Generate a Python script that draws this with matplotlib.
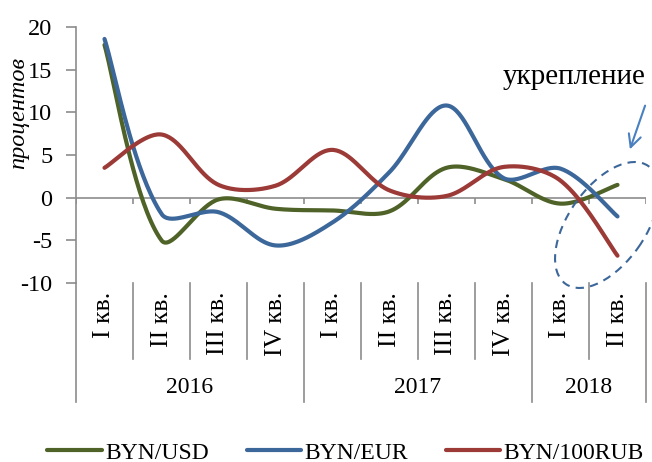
import numpy as np
import matplotlib
matplotlib.use("Agg")
import matplotlib.pyplot as plt
from matplotlib.patches import Ellipse
from matplotlib.lines import Line2D

plt.rcParams["font.family"] = ["Liberation Serif", "DejaVu Serif"]
plt.rcParams["axes.unicode_minus"] = False

# данные
quarters = ["I кв.", "II кв.", "III кв.", "IV кв.",
            "I кв.", "II кв.", "III кв.", "IV кв.",
            "I кв.", "II кв."]
years = ["2016", "2017", "2018"]
year_sizes = [4, 4, 2]
usd = [17.9, -5.0, -0.2, -1.3, -1.5, -1.6, 3.5, 2.2, -0.7, 1.5]
eur = [18.6, -1.9, -1.7, -5.6, -2.9, 3.0, 10.8, 2.3, 3.4, -2.2]
rub = [3.5, 7.4, 1.5, 1.4, 5.6, 0.85, 0.2, 3.6, 2.0, -6.8]

c_usd = "#4f6228"
c_eur = "#3c679a"
c_rub = "#9b3a37"
gray = "#8c8c8c"

# масштаб осей в пикселях (для сглаживания в экранных координатах)
PX_X, PX_Y = 57.0, 8.5


def smooth(y, n=40):
    # сглаживание в стиле Excel: кривые Безье, длина касательных
    # пропорциональна длине соседних отрезков
    x = np.arange(len(y), dtype=float)
    p = np.column_stack([x * PX_X, np.asarray(y, dtype=float) * PX_Y])
    pts = np.vstack([p[0], p, p[-1]])
    out = []
    t = np.linspace(0, 1, n)[:, None]
    for i in range(1, len(pts) - 2):
        p0, p1 = pts[i], pts[i + 1]
        l_prev = np.linalg.norm(pts[i] - pts[i - 1])
        l_cur = np.linalg.norm(pts[i + 1] - pts[i])
        l_next = np.linalg.norm(pts[i + 2] - pts[i + 1])
        d0 = pts[i + 1] - pts[i - 1]
        d1 = pts[i + 2] - pts[i]
        f0 = l_cur / (l_prev + l_cur) if l_prev > 0 else 0.5
        f1 = l_cur / (l_cur + l_next) if l_next > 0 else 0.5
        c1 = p0 + d0 * f0 / 3
        c2 = p1 - d1 * f1 / 3
        seg = ((1 - t) ** 3) * p0 + 3 * ((1 - t) ** 2) * t * c1 \
            + 3 * (1 - t) * t ** 2 * c2 + t ** 3 * p1
        out.append(seg)
    s = np.vstack(out)
    return s[:, 0] / PX_X, s[:, 1] / PX_Y


fig = plt.figure(figsize=(6.52, 4.62), dpi=100)
ax = fig.add_axes([76 / 652, 1 - 283 / 462, 570 / 652, 256 / 462])

for vals, col, lab in [(usd, c_usd, "BYN/USD"), (eur, c_eur, "BYN/EUR"),
                       (rub, c_rub, "BYN/100RUB")]:
    sx, sy = smooth(vals)
    ax.plot(sx, sy, color=col, lw=3, label=lab, solid_capstyle="round")

ax.set_xlim(-0.5, len(quarters) - 0.5)
ax.set_ylim(-10, 20)
ax.set_yticks([-10, -5, 0, 5, 10, 15, 20])
ax.set_xticks([])
for s in ["top", "right", "bottom"]:
    ax.spines[s].set_visible(False)
ax.spines["left"].set_color(gray)
ax.spines["left"].set_linewidth(1.2)
ax.tick_params(axis="y", length=7, width=1.2, color=gray, labelsize=17.5,
               pad=10)

# нулевая линия с засечками
ax.axhline(0, color=gray, lw=1.2, zorder=1)
bounds = np.arange(len(quarters) + 1) - 0.5
ax.vlines(bounds, -0.8, 0, color=gray, lw=1.2, zorder=1)

# многоуровневая ось категорий
tr = ax.get_xaxis_transform()
year_edges = np.concatenate([[0], np.cumsum(year_sizes)]) - 0.5
for b in bounds:
    y_end = -0.465 if b in year_edges else -0.297
    ax.add_line(Line2D([b, b], [0, y_end], transform=tr, color=gray,
                       lw=1.2, clip_on=False))
for i, q in enumerate(quarters):
    ax.text(i, -0.035, q, rotation=90, ha="center", va="top",
            transform=tr, fontsize=18.5)
for k, yr in enumerate(years):
    cx = (year_edges[k] + year_edges[k + 1]) / 2
    ax.text(cx, -0.41, yr, ha="center", va="center", transform=tr,
            fontsize=17)

fig.text(19 / 652, 1 - 113 / 462, "процентов", rotation=90, style="italic",
         ha="center", va="center", fontsize=17.5)

# аннотация
fig.text(574 / 652, 1 - 77 / 462, "укрепление", ha="center", va="center",
         fontsize=21)
ax.annotate("", xy=(629, 462 - 152), xytext=(646, 462 - 103),
            xycoords="figure pixels", textcoords="figure pixels",
            arrowprops=dict(arrowstyle="->,head_length=0.9,head_width=0.45",
                            color="#4a80c0", lw=1.5))
fig.add_artist(Ellipse((6.07, 4.62 - 2.25), 1.44, 0.77, angle=55,
                       transform=fig.dpi_scale_trans, fill=False,
                       ls=(0, (4, 3)), color=c_eur, lw=1.5, clip_on=False))

fig.legend(loc="center", bbox_to_anchor=(0.53, 0.02), ncol=3, frameon=False,
           fontsize=17, handlelength=2.3, handletextpad=0.15,
           columnspacing=1.6, borderaxespad=0)

fig.savefig("out.png", dpi=100)
